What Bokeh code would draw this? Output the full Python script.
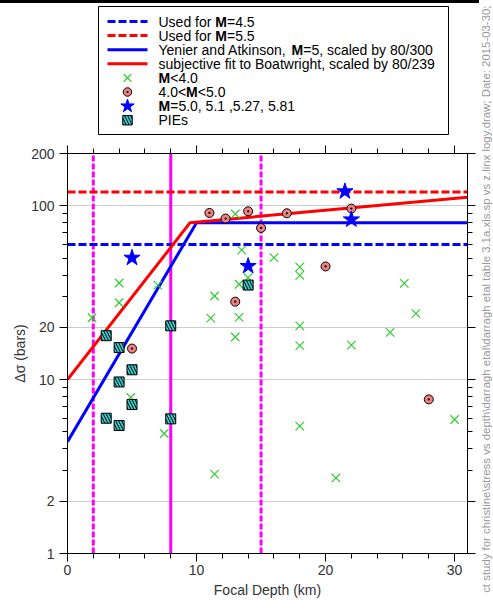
import math
from bokeh.plotting import figure
from bokeh.layouts import row, column
from bokeh.models import (FixedTicker, LinearAxis, LogAxis, Label, Title, Div,
                          BoxAnnotation, BasicTickFormatter, CustomJSTickFormatter, Range1d)
from bokeh.embed import file_html
from bokeh.resources import INLINE

# ---------------- data ----------------
depth_limits = [0, 31]
stress_limits = [1, 200]

x_major = [0, 10, 20, 30]
x_minor = [0, 2, 4, 6, 8, 10, 12, 14, 16, 18, 20, 22, 24, 26, 28, 30]
y_major = [1, 2, 10, 20, 100, 200]
y_minor = [3, 4, 5, 6, 7, 8, 9, 30, 40, 50, 60, 70, 80, 90]

level_m45 = 60
level_m55 = 120

ya_depth = [0, 10, 31]
ya_stress = [4.4, 80, 80]

fit_depth = [0, 9.5, 31]
fit_stress = [10, 80, 112]

dashed_depths = [2, 15]
solid_depths = [8]

lt4_depth = [1.9, 4.0, 4.0, 4.9, 7.0, 7.5, 11.1, 11.4, 11.4, 13.0, 13.0, 13.3, 13.3, 13.5,
             14.0, 16.0, 18.0, 18.0, 18.0, 18.0, 18.0, 20.8, 22.0, 25.0, 26.1, 27.0, 30.0]
lt4_stress = [22.7, 36, 27.7, 7.9, 35, 4.9, 22.6, 30.3, 2.86, 89.8, 17.6, 35.4, 22.8, 55.6,
              38.6, 50.3, 44.4, 39.8, 20.4, 15.7, 5.4, 2.72, 15.8, 18.7, 35.8, 24.0, 5.9]

m45_depth = [5.0, 11.0, 12.25, 13.0, 14.0, 15.0, 17.0, 20.0, 22.0, 28.0]
m45_stress = [15.1, 91, 84.5, 28.1, 93, 74.6, 90.6, 44.8, 96.4, 7.7]

m5_depth = [5.0, 14.0, 21.5, 22.0]
m5_stress = [50.2, 45.0, 121, 83.4]

pie_depth = [3.0, 4.0, 5.0, 4.0, 5.0, 3.0, 4.0, 8.0, 8.0, 14.0]
pie_stress = [17.9, 15.3, 11.4, 9.7, 7.2, 6.0, 5.45, 20.4, 5.95, 35.0]

legend_texts = [
    [("Used for", 158, "normal"), ("M", 214.8, "bold"), ("=4.5", 226.5, "normal")],
    [("Used for", 158, "normal"), ("M", 214.8, "bold"), ("=5.5", 226.5, "normal")],
    [("Yenier and Atkinson,", 158, "normal"), ("M", 291.1, "bold"), ("=5, scaled by 80/300", 302.7, "normal")],
    [("subjective fit to Boatwright, scaled by 80/239", 158, "normal")],
    [("M", 158, "bold"), ("<4.0", 169.7, "normal")],
    [("4.0<", 158, "normal"), ("M", 185.6, "bold"), ("<5.0", 197.3, "normal")],
    [("M", 158, "bold"), ("=5.0, 5.1 ,5.27, 5.81", 169.7, "normal")],
    [("PIEs", 158, "normal")],
]
file_note = ("ct study for christine\\stress vs depth\\darragh etal\\darragh etal table 3.1a.xls.sp "
             "vs z.linx logy.draw; Date: 2015-03-30;")

FONT = "Liberation Sans"

# ---------------- styles ----------------
STY_M45 = dict(line_color="#0000ff", line_width=3, line_dash="8 3")
STY_M55 = dict(line_color="#ff0000", line_width=3, line_dash="8 3")
STY_YA = dict(line_color="#0000ff", line_width=3)
STY_FIT = dict(line_color="#ff0000", line_width=3)
STY_LT4 = dict(marker="x", line_color="#33cc33", line_width=1.2)
STY_M4 = dict(marker="circle_dot", fill_color="#f08080", line_color="black", line_width=1)
STY_M5 = dict(marker="star", fill_color="#0000ff", line_color="#0000ff")
STY_PIE = dict(marker="square", fill_color="#33cccc", line_color="black", line_width=1,
               hatch_pattern="\\", hatch_color="black", hatch_scale=6, hatch_weight=1)

# ---------------- main figure ----------------
MW, MH = 477, 473
FL, FR, FT, FBm = 67, 10, 13, 60

p = figure(width=MW, height=MH, x_range=Range1d(*depth_limits), y_range=Range1d(*stress_limits),
           y_axis_type="log", output_backend="svg", toolbar_location=None,
           min_border_left=FL, min_border_right=FR, min_border_top=FT, min_border_bottom=FBm,
           background_fill_color="white", border_fill_color="white",
           outline_line_color="black", outline_line_width=1)


def style_axis(ax):
    ax.axis_line_color = "black"
    ax.major_tick_line_color = "black"
    ax.minor_tick_line_color = "black"
    ax.major_tick_out = 8
    ax.major_tick_in = 0
    ax.minor_tick_out = 5
    ax.minor_tick_in = 0
    ax.major_label_text_font = FONT
    ax.major_label_text_font_size = "14px"
    ax.major_label_text_color = "#333333"


def blank_axis(ax):
    style_axis(ax)
    ax.major_label_text_font_size = "0px"
    ax.major_label_standoff = 0


xa = p.xaxis[0]
xa.ticker = FixedTicker(ticks=x_major, minor_ticks=x_minor)
style_axis(xa)
xa.major_label_standoff = 3
xa.axis_label = "Focal Depth (km)"
xa.axis_label_text_font = FONT
xa.axis_label_text_font_size = "14px"
xa.axis_label_text_font_style = "normal"
xa.axis_label_text_color = "#333333"
xa.axis_label_standoff = 4

ya = p.yaxis[0]
ya.ticker = FixedTicker(ticks=y_major, minor_ticks=y_minor)
ya.formatter = BasicTickFormatter()
style_axis(ya)
ya.major_label_standoff = 5

ta = LinearAxis(ticker=FixedTicker(ticks=x_major, minor_ticks=x_minor),
                formatter=CustomJSTickFormatter(code="return ''"))
blank_axis(ta)
p.add_layout(ta, "above")
ra = LogAxis(ticker=FixedTicker(ticks=y_major, minor_ticks=y_minor),
             formatter=CustomJSTickFormatter(code="return ''"))
blank_axis(ra)
p.add_layout(ra, "right")

p.add_layout(Title(text="Δσ (bars)", align="center", offset=22, text_font=FONT,
                   text_font_size="14px", text_font_style="normal", text_color="#333333",
                   standoff=2), "left")

p.xgrid.grid_line_color = None
p.ygrid.grid_line_color = "#cccccc"
p.ygrid.grid_line_width = 1.2

for d in dashed_depths:
    p.line([d, d], stress_limits, line_color="#ff00ff", line_width=3, line_dash="6 2")
for d in solid_depths:
    p.line([d, d], stress_limits, line_color="#ff00ff", line_width=3)

p.line(depth_limits, [level_m45, level_m45], **STY_M45)
p.line(depth_limits, [level_m55, level_m55], **STY_M55)
p.line(ya_depth, ya_stress, **STY_YA)
p.line(fit_depth, fit_stress, **STY_FIT)
p.scatter(lt4_depth, lt4_stress, size=12, **STY_LT4)
p.scatter(m45_depth, m45_stress, size=9, **STY_M4)
p.scatter(m5_depth, m5_stress, size=17, **STY_M5)
p.scatter(pie_depth, pie_stress, size=10, **STY_PIE)


# ---------------- helper for plain panels ----------------
def panel(w, h, xr, yr, bg="white"):
    f = figure(width=w, height=h, x_range=xr, y_range=yr, output_backend="svg",
               toolbar_location=None, x_axis_location=None, y_axis_location=None,
               min_border=0, min_border_left=0, min_border_right=0, min_border_top=0,
               min_border_bottom=0, outline_line_color=None,
               background_fill_color=bg, border_fill_color=bg)
    f.grid.visible = False
    return f


# thin black rule across the top of the page
rule = Div(text="", width=479, height=3, margin=(0, 0, 0, 0),
           styles={"background-color": "black"})

# ---------------- legend panel (page-pixel coordinates) ----------------
LH = 137  # spans page y 3 .. 140; frame is aligned with the main frame (page x 67 .. 467)
lg = panel(MW, LH, Range1d(FL, FL + 400), Range1d(3 + LH, 3))

lg.add_layout(BoxAnnotation(left=98, right=448, top=6, bottom=134, fill_color="white",
                            fill_alpha=1, line_color="black", line_width=1, line_alpha=1,
                            level="underlay"))

row_y = [21 + 14.1 * i for i in range(8)]
key_x0, key_x1 = 107, 147
key_xc = (key_x0 + key_x1) / 2
lg.line([key_x0, key_x1], [row_y[0]] * 2, **STY_M45)
lg.line([key_x0, key_x1], [row_y[1]] * 2, **STY_M55)
lg.line([key_x0, key_x1], [row_y[2]] * 2, **STY_YA)
lg.line([key_x0, key_x1], [row_y[3]] * 2, **STY_FIT)
lg.scatter([key_xc], [row_y[4]], size=11, **STY_LT4)
lg.scatter([key_xc], [row_y[5]], size=8.5, **STY_M4)
lg.scatter([key_xc], [row_y[6]], size=14, **STY_M5)
lg.scatter([key_xc], [row_y[7]], size=9.5, **STY_PIE)

for parts, yc in zip(legend_texts, row_y):
    for txt, xx, style in parts:
        lg.add_layout(Label(x=xx, y=yc, text=txt, text_font=FONT, text_font_size="14px",
                            text_font_style=style, text_color="black",
                            text_baseline="middle", text_align="left"))

# ---------------- right strip with file note ----------------
TW, TH = 16, 610
tf = panel(TW, TH, Range1d(0, 1), Range1d(0, 1))
tf.add_layout(Label(x=485 - 477, y=TH - 2, x_units="screen", y_units="screen", text=file_note,
                    angle=math.pi / 2, text_font=FONT, text_font_size="11.4px", text_color="#999999",
                    text_align="right", text_baseline="middle"))

layout = column(rule, row(column(lg, p, spacing=0), tf, spacing=0), spacing=0)
open("out.html", "w").write(file_html(layout, INLINE))
